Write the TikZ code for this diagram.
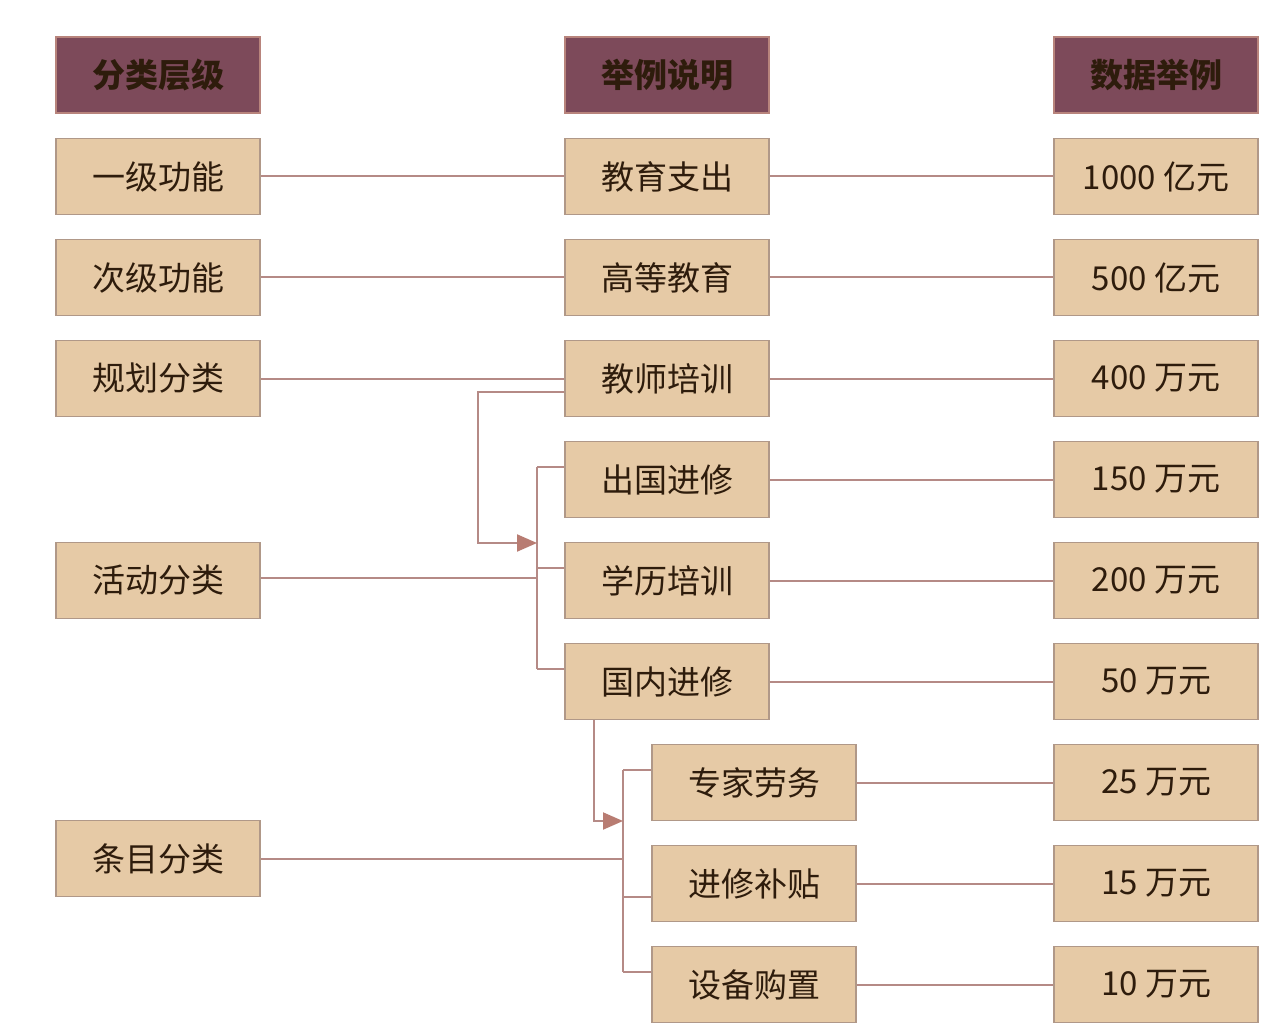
\documentclass[tikz,border=0pt]{standalone}
\usepackage{fontspec}
\setmainfont{Noto Sans CJK SC}
\usetikzlibrary{arrows.meta}
\definecolor{boxfill}{HTML}{E6CAA6}
\definecolor{boxline}{HTML}{B09888}
\definecolor{headfill}{HTML}{7D4A5A}
\definecolor{headline}{HTML}{B8847C}
\definecolor{txt}{HTML}{2E1C0C}
\definecolor{conn}{HTML}{B58A86}
\definecolor{arr}{HTML}{B87C72}
\begin{document}
\begin{tikzpicture}[x=1pt,y=-1pt,
  cell/.style={draw=boxline,line width=1.3pt,fill=boxfill,minimum width=204pt,minimum height=76pt,
    inner sep=0pt,text=txt,font=\fontsize{33}{38}\selectfont},
  head/.style={cell,draw=headline,fill=headfill,line width=2pt,font=\fontsize{33}{38}\selectfont\bfseries},
  link/.style={draw=conn,line width=2pt},
  arrowlink/.style={link,-{Triangle[length=20pt,width=17pt,color=arr]}}]
\useasboundingbox[fill=white] (0,0) rectangle (1271,1024);
% headers
\node[head] (h1) at (158,75) {分类层级};
\node[head] (h2) at (667,75) {举例说明};
\node[head] (h3) at (1156,75) {数据举例};
% left column
\node[cell] (l1) at (158,176.5) {一级功能};
\node[cell] (l2) at (158,277.5) {次级功能};
\node[cell] (l3) at (158,378.5) {规划分类};
\node[cell] (l4) at (158,580.5) {活动分类};
\node[cell] (l5) at (158,858.5) {条目分类};
% middle column
\node[cell] (m1) at (667,176.5) {教育支出};
\node[cell] (m2) at (667,277.5) {高等教育};
\node[cell] (m3) at (667,378.5) {教师培训};
\node[cell] (m4) at (667,479.5) {出国进修};
\node[cell] (m5) at (667,580.5) {学历培训};
\node[cell] (m6) at (667,681.5) {国内进修};
\node[cell] (m7) at (754,782.5) {专家劳务};
\node[cell] (m8) at (754,883.5) {进修补贴};
\node[cell] (m9) at (754,984.5) {设备购置};
% right column
\node[cell] (r1) at (1156,176.5) {1000 亿元};
\node[cell] (r2) at (1156,277.5) {500 亿元};
\node[cell] (r3) at (1156,378.5) {400 万元};
\node[cell] (r4) at (1156,479.5) {150 万元};
\node[cell] (r5) at (1156,580.5) {200 万元};
\node[cell] (r6) at (1156,681.5) {50 万元};
\node[cell] (r7) at (1156,782.5) {25 万元};
\node[cell] (r8) at (1156,883.5) {15 万元};
\node[cell] (r9) at (1156,984.5) {10 万元};
% coordinates
\coordinate (bA) at (537,543);
\coordinate (bAt) at (537,467);
\coordinate (bAb) at (537,669);
\coordinate (turnA) at (478,543);
\coordinate (bB) at (623,821);
\coordinate (bBt) at (623,770);
\coordinate (bBb) at (623,972);
\coordinate (turnB) at (594,821);
% left-to-middle links
\draw[link] (l1.east) -- (m1.west);
\draw[link] (l2.east) -- (m2.west);
\draw[link] (l3.east) -- (m3.west);
\draw[link] ([yshift=2.5pt]l4.east) -- ([yshift=2.5pt]l4.east -| bA);
\draw[link] (l5.east) -- (l5.east -| bB);
% middle-to-right links
\foreach \i in {1,...,9} { \draw[link] (m\i.east) -- (r\i.west); }
% bracket A
\draw[link] (bAt) -- (bAb);
\draw[link] (bAt) -- (bAt -| m4.west);
\draw[link] ([yshift=13pt]m5.west) -- ([yshift=13pt]m5.west -| bA);
\draw[link] (bAb) -- (bAb -| m6.west);
\draw[arrowlink] ([yshift=-13pt]m3.west) -| (turnA) -- (bA);
% bracket B
\draw[link] (bBt) -- (bBb);
\draw[link] (bBt) -- (bBt -| m7.west);
\draw[link] ([yshift=-13pt]m8.west) -- ([yshift=-13pt]m8.west -| bB);
\draw[link] (bBb) -- (bBb -| m9.west);
\draw[arrowlink] (m6.south -| turnB) -- (turnB) -- (bB);
\end{tikzpicture}
\end{document}
